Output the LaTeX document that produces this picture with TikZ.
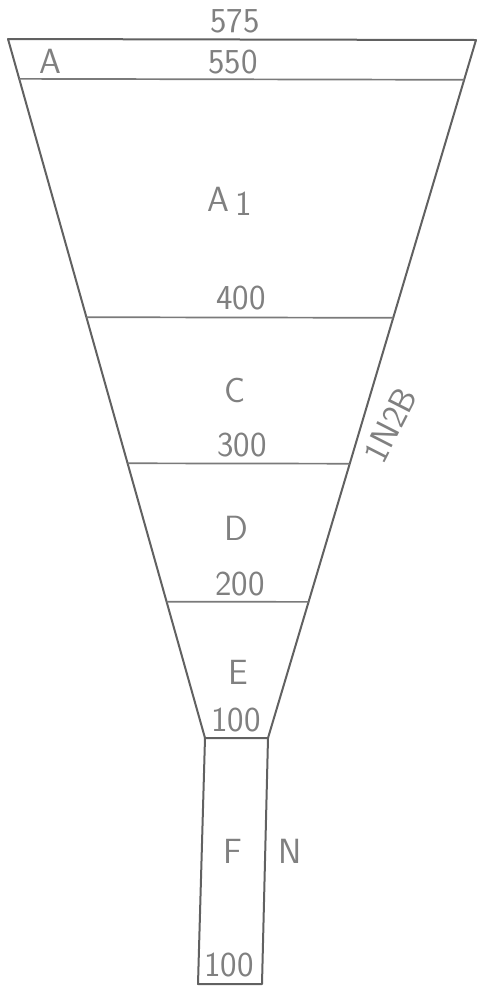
\documentclass[tikz,border=0pt]{standalone}
\usepackage{tikz}
\usetikzlibrary{calc}
\begin{document}
\begin{tikzpicture}[
      x=1pt, y=-1pt,
      edge/.style={draw=black!62, line width=2pt, line join=round},
      level line/.style={draw=black!52, line width=1.7pt},
      lbl/.style={text=black!50, font=\sffamily\fontsize{35}{35}\selectfont, inner sep=0pt}
    ]
    \useasboundingbox (0,0) rectangle (484,986);
    \coordinate (tl) at (8,39);
    \coordinate (tr) at (476,40);
    \coordinate (bl) at (205,738);
    \coordinate (br) at (268,738);
    \coordinate (fl) at (198,984);
    \coordinate (fr) at (262,984);
    % funnel and spout
    \draw[edge] (tl) -- (tr) -- (br) -- (bl) -- cycle;
    \draw[edge] (bl) -- (fl) -- (fr) -- (br);
    % level lines
    \foreach \t in {0.057,0.398,0.607,0.805}
      \draw[level line] ($(tl)!\t!(bl)$) -- ($(tr)!\t!(br)$);
    % labels
    \node (v575) [lbl] at (235,21) {575};
    \node (zA) [lbl] at (50,61) {A};
    \node (v550) [lbl] at (233,62) {550};
    \node (zA1) [lbl] at (230,201) {A\,\raisebox{-4pt}{1}};
    \node (v400) [lbl] at (241,298) {400};
    \node (zC) [lbl] at (235,390) {C};
    \node (v300) [lbl] at (242,445) {300};
    \node (zB) [lbl,rotate=63] at (390,425) {1N2B};
    \node (zD) [lbl] at (236,528) {D};
    \node (v200) [lbl] at (240,584) {200};
    \node (zE) [lbl] at (238,672) {E};
    \node (v100) [lbl] at (236,720) {100};
    \node (zF) [lbl] at (233,851) {F};
    \node (zN) [lbl] at (290,851) {N};
    \node (v100b) [lbl] at (229,965) {100};
\end{tikzpicture}
\end{document}
